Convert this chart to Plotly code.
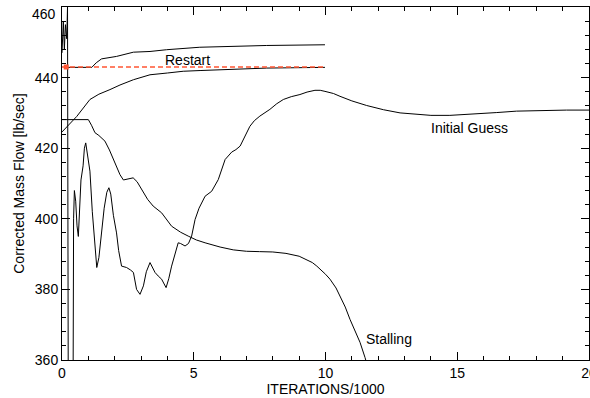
import plotly.graph_objects as go

# Initial guess run
guess_x = [0, 0.05, 0.09, 0.13, 0.18, 0.21, 0.25, 0.40, 0.44, 0.47, 0.52, 0.57, 0.62, 0.66, 0.72, 0.80,
           0.85, 0.90, 0.95, 1.00, 1.06, 1.15, 1.25, 1.32, 1.40, 1.50, 1.60, 1.70, 1.78, 1.85, 1.95,
           2.07, 2.15, 2.26, 2.45, 2.60, 2.71, 2.83, 2.96, 3.09, 3.20, 3.34, 3.45, 3.53, 3.65, 3.78,
           3.95, 4.05, 4.16, 4.30, 4.41, 4.50, 4.67, 4.80, 4.92, 5.05, 5.20, 5.43, 5.68, 5.93, 6.19,
           6.44, 6.60, 6.76, 6.95, 7.13, 7.30, 7.51, 7.89, 8.15, 8.40, 8.70, 9.03, 9.30, 9.60, 9.80,
           9.98, 10.30, 10.55, 11.00, 11.56, 12.20, 12.83, 13.50, 14.00, 14.72, 15.30, 15.99, 16.50,
           17.25, 18.20, 19.15, 20.0]
guess_y = [447, 456, 448, 455, 451, 460, 300, 300, 400, 408, 405, 398, 395, 402, 411, 415,
           420, 421.5, 419, 416, 413.5, 402, 391.3, 386.2, 389, 397, 403, 407.5, 408.8, 407, 401,
           396, 391, 386.6, 386.2, 385.5, 384.8, 380, 378.6, 381, 385, 387.6, 386, 384.8, 383.8, 382.9,
           380.5, 383, 386.6, 390, 393.2, 393, 392.3, 393, 395.1, 399.8, 403, 406.4, 407.8, 411.1, 416.8,
           418.9, 419.6, 420.6, 423.5, 426.2, 427.8, 429.1, 431.0, 432.6, 433.8, 434.6, 435.2, 435.9, 436.4, 436.4,
           436.1, 435.5, 434.7, 433.4, 432.1, 430.9, 430.0, 429.5, 429.3, 429.3, 429.5, 429.8, 430.1,
           430.5, 430.7, 430.8, 430.8]

# Stalling run
stall_x = [0, 1.0, 1.12, 1.25, 1.40, 1.63, 1.80, 2.01, 2.20, 2.33, 2.50, 2.70, 2.85, 3.02, 3.25, 3.46,
           3.78, 4.16, 4.50, 4.79, 5.10, 5.43, 6.0, 6.5, 7.0, 7.5, 8.0, 8.5, 9.0, 9.5, 9.67, 10.0,
           10.17, 10.4, 10.55, 10.75, 10.93, 11.1, 11.31, 11.5, 11.6]
stall_y = [428.1, 428.1, 426.5, 424.4, 423.6, 422, 419.5, 415.9, 412.5, 411, 411.2, 411.6, 410.5, 408.3,
           405.5, 403.6, 401.7, 397.9, 396.2, 395.1, 394.0, 393.2, 392.0, 391.2, 390.8, 390.7, 390.6, 390.2,
           389.4, 387.6, 386.6, 384.3, 382.9, 380.4, 378.1, 375.0, 371.5, 368.5, 365.0, 360.7, 358]

# Restart runs
restart_low_x = [0, 0.56, 1.06, 1.40, 1.82, 2.20, 2.71, 3.34, 4.00, 4.60, 5.24, 6.50, 7.77, 9.98]
restart_low_y = [424.6, 429.0, 433.8, 435.3, 436.6, 437.9, 439.4, 440.8, 441.3, 441.8, 442.0, 442.3, 442.7, 442.9]

restart_up_x = [0.18, 1.13, 1.30, 1.50, 2.07, 2.71, 3.34, 3.97, 5.23, 7.77, 9.98]
restart_up_y = [442.9, 442.9, 444.2, 445.3, 446.0, 447.2, 447.4, 447.9, 448.6, 449.1, 449.3]

restart_ref_x = [0, 10]
restart_ref_y = [443, 443]
restart_pt_x = [0.16]
restart_pt_y = [443]

label_text = ["Restart", "Initial Guess", "Stalling"]
label_x = [4.76, 15.45, 12.4]
label_y = [445.1, 425.8, 365.9]

x_ticks = [0, 5, 10, 15, 20]
y_ticks = [360, 380, 400, 420, 440, 460]

FONT = "Liberation Sans, Arial, Helvetica, sans-serif"
RED = "#ff5533"

fig = go.Figure()
line = dict(color="black", width=1)
fig.add_trace(go.Scatter(x=guess_x, y=guess_y, mode="lines", line=line))
fig.add_trace(go.Scatter(x=stall_x, y=stall_y, mode="lines", line=line))
fig.add_trace(go.Scatter(x=restart_low_x, y=restart_low_y, mode="lines", line=line))
fig.add_trace(go.Scatter(x=restart_up_x, y=restart_up_y, mode="lines", line=line))
fig.add_trace(go.Scatter(x=restart_ref_x, y=restart_ref_y, mode="lines",
                         line=dict(color=RED, width=1.5, dash="5px,3px")))
fig.add_trace(go.Scatter(x=restart_pt_x, y=restart_pt_y, mode="markers",
                         marker=dict(color=RED, symbol="square", size=5)))
# invisible trace to anchor the mirrored tick axes (top / right)
fig.add_trace(go.Scatter(x=restart_ref_x, y=restart_ref_y, xaxis="x2", yaxis="y2", mode="lines",
                         line=dict(width=0), opacity=0, hoverinfo="skip"))

for t, x, y in zip(label_text, label_x, label_y):
    fig.add_annotation(x=x, y=y, text=t, showarrow=False,
                       font=dict(family=FONT, size=14, color="black"))

# top label of the y axis sits slightly lower in the original (clipped top)
fig.add_annotation(x=0, xref="paper", xanchor="right", xshift=-4, y=y_ticks[-1], yref="y",
                   yshift=-6.5, text=str(y_ticks[-1]), showarrow=False,
                   font=dict(family=FONT, size=14, color="black"))

tfont = dict(family=FONT, size=14, color="black")
axis_common = dict(showline=True, linecolor="black", linewidth=1, mirror=True,
                   ticks="inside", ticklen=8, tickwidth=1, tickcolor="black", automargin=False,
                   showgrid=False, zeroline=False, tickfont=tfont, ticklabeloverflow="allow")
mirror_common = dict(showticklabels=False, ticks="inside", ticklen=8, tickcolor="black",
                     showline=False, showgrid=False, zeroline=False, automargin=False)

fig.update_layout(
    template="none",
    xaxis=dict(range=[0, 20], tickvals=x_ticks, ticktext=[str(v) for v in x_ticks],
               minor=dict(dtick=1, ticks="inside", ticklen=4, tickcolor="black", showgrid=False),
               title=dict(text="ITERATIONS/1000", font=tfont, standoff=2), **axis_common),
    yaxis=dict(range=[360, 460], tickvals=y_ticks,
               ticktext=[str(v) for v in y_ticks[:-1]] + [""],
               minor=dict(dtick=4, tick0=360, ticks="inside", ticklen=4, tickcolor="black", showgrid=False),
               title=dict(text="Corrected Mass Flow [lb/sec]", font=tfont, standoff=6), **axis_common),
    xaxis2=dict(range=[0, 20], overlaying="x", side="top", tickvals=x_ticks,
                minor=dict(dtick=1, ticks="inside", ticklen=4, tickcolor="black", showgrid=False),
                **mirror_common),
    yaxis2=dict(range=[360, 460], overlaying="y", side="right", tickvals=y_ticks,
                minor=dict(dtick=4, tick0=360, ticks="inside", ticklen=4, tickcolor="black", showgrid=False),
                **mirror_common),
    width=590, height=398, margin=dict(l=62, r=1, t=7, b=38),
    plot_bgcolor="white", paper_bgcolor="white", showlegend=False, font=tfont)

fig.write_html("out.html")
